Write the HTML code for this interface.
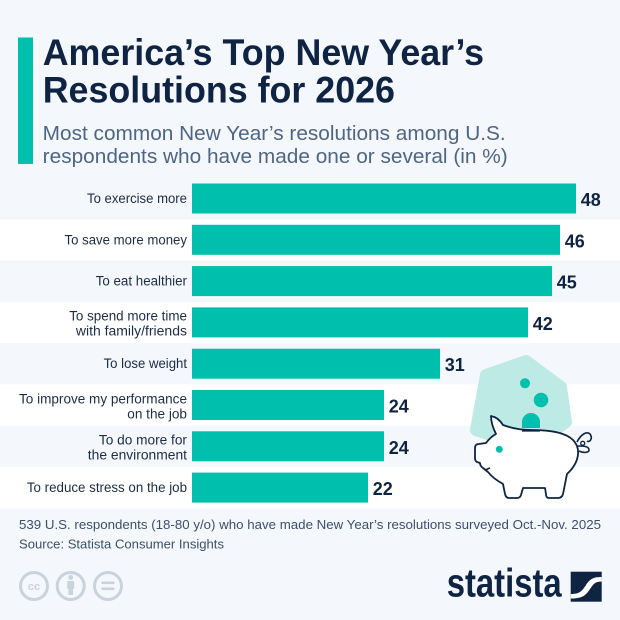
<!DOCTYPE html>
<html><head><meta charset="utf-8"><style>
html,body{margin:0;padding:0;background:#f4f7fb;}
svg{display:block;}
text{font-family:"Liberation Sans",sans-serif;}
</style></head><body>
<svg width="620" height="620" viewBox="0 0 620 620" xmlns="http://www.w3.org/2000/svg">
<rect width="620" height="620" fill="#f4f7fb"/>
<!-- accent bar -->
<rect x="18" y="37.5" width="15" height="126.5" fill="#00bfad"/>
<!-- title -->
<text x="42.7" y="65" font-size="37" font-weight="700" fill="#0f2342" textLength="441.3" lengthAdjust="spacingAndGlyphs">America’s Top New Year’s</text>
<text x="42.7" y="102.7" font-size="37" font-weight="700" fill="#0f2342" textLength="352.3" lengthAdjust="spacingAndGlyphs">Resolutions for 2026</text>
<!-- subtitle -->
<text x="42.7" y="140" font-size="20.5" fill="#4e6584" textLength="463" lengthAdjust="spacingAndGlyphs">Most common New Year’s resolutions among U.S.</text>
<text x="42.7" y="163" font-size="20.5" fill="#4e6584" textLength="465" lengthAdjust="spacingAndGlyphs">respondents who have made one or several (in %)</text>

<!-- bands -->
<rect x="0" y="219.3" width="620" height="41.3" fill="#ffffff"/>
<rect x="0" y="301.9" width="620" height="41.3" fill="#ffffff"/>
<rect x="0" y="384.5" width="620" height="41.3" fill="#ffffff"/>
<rect x="0" y="467.1" width="620" height="41.3" fill="#ffffff"/>

<!-- bars -->
<g fill="#00bfad">
<rect x="192" y="183.5" width="384" height="30"/>
<rect x="192" y="224.8" width="368" height="30"/>
<rect x="192" y="266.1" width="360" height="30"/>
<rect x="192" y="307.4" width="336" height="30"/>
<rect x="192" y="348.7" width="248" height="30"/>
<rect x="192" y="390" width="192" height="30"/>
<rect x="192" y="431.3" width="192" height="30"/>
<rect x="192" y="472.6" width="176" height="30"/>
</g>

<!-- labels -->
<g font-size="13.5" fill="#1d2c47" text-anchor="end">
<text x="187" y="203" textLength="100" lengthAdjust="spacingAndGlyphs">To exercise more</text>
<text x="187" y="244.3" textLength="122.5" lengthAdjust="spacingAndGlyphs">To save more money</text>
<text x="187" y="285.6" textLength="91.3" lengthAdjust="spacingAndGlyphs">To eat healthier</text>
<text x="187" y="320.7" textLength="117.8" lengthAdjust="spacingAndGlyphs">To spend more time</text>
<text x="187" y="335.7" textLength="111.1" lengthAdjust="spacingAndGlyphs">with family/friends</text>
<text x="187" y="368.2" textLength="83.4" lengthAdjust="spacingAndGlyphs">To lose weight</text>
<text x="187" y="403.3" textLength="168" lengthAdjust="spacingAndGlyphs">To improve my performance</text>
<text x="187" y="418.3" textLength="59.7" lengthAdjust="spacingAndGlyphs">on the job</text>
<text x="187" y="444.6" textLength="88.1" lengthAdjust="spacingAndGlyphs">To do more for</text>
<text x="187" y="459.6" textLength="99.2" lengthAdjust="spacingAndGlyphs">the environment</text>
<text x="187" y="492.1" textLength="160.1" lengthAdjust="spacingAndGlyphs">To reduce stress on the job</text>
</g>

<!-- values -->
<g font-size="18" font-weight="700" fill="#0f2342">
<text x="580.7" y="206">48</text>
<text x="564.7" y="247.3">46</text>
<text x="556.7" y="288.6">45</text>
<text x="532.7" y="329.9">42</text>
<text x="444.7" y="371.2">31</text>
<text x="388.7" y="412.5">24</text>
<text x="388.7" y="453.8">24</text>
<text x="372.7" y="495.1">22</text>
</g>

<!-- piggy illustration -->
<polygon points="486,375 526,361 561,387 566,422 530,448 476,430" fill="#bdeae4" stroke="#bdeae4" stroke-width="12" stroke-linejoin="round"/>
<circle cx="525" cy="383.3" r="5" fill="#00bfad"/>
<circle cx="541" cy="400" r="7.3" fill="#00bfad"/>
<path d="M496 434 C493 428 491 421 491 416 C496 417 500 420 503 425 C511 428 520 430 531 430 C549 430 565 432 573 440 C581 448 580 462 567 474 L563 494 Q562 498 558 498 L549 498 Q546 498 546 494 L545 488 L523 488 L521 495 Q520 498 517 498 L509 498 Q506 498 505 494 L503 484 C496 480 491 476 488 472 L483 468 Q480 466 480 463 L477 462 Q475 461 475 458 L475 448 Q475 444 479 444 L486 443 C489 439 492 436 496 434 Z" fill="#ffffff" stroke="#0f2342" stroke-width="1.8" stroke-linejoin="round"/>
<path d="M522 428 L522 422 A9 9 0 0 1 540 422 L540 428 Z" fill="#00bfad"/>
<line x1="522" y1="430.8" x2="540" y2="430.8" stroke="#0f2342" stroke-width="1.6"/>
<path d="M485 470 L490 468" stroke="#0f2342" stroke-width="1.5" fill="none"/>
<path d="M577 442 C581 434 587 431 590 434 C593 438 590 443 587 441" fill="none" stroke="#0f2342" stroke-width="1.6"/>
<path d="M578 446 C583 446 589 446 589 450 C589 453 583 453 579 451" fill="none" stroke="#0f2342" stroke-width="1.6"/>
<circle cx="582.7" cy="443.3" r="2" fill="none" stroke="#0f2342" stroke-width="1.3"/>
<circle cx="499.3" cy="449.3" r="3.5" fill="#00bfad"/>

<!-- footer -->
<text x="19" y="529" font-size="12.5" fill="#3c4f6d" textLength="582" lengthAdjust="spacingAndGlyphs">539 U.S. respondents (18-80 y/o) who have made New Year’s resolutions surveyed Oct.-Nov. 2025</text>
<text x="19" y="548.3" font-size="12.5" fill="#3c4f6d" textLength="205" lengthAdjust="spacingAndGlyphs">Source: Statista Consumer Insights</text>

<!-- cc icons -->
<g stroke="#c9d3dd" stroke-width="3" fill="none">
<circle cx="34" cy="586" r="13.5"/>
<circle cx="70.7" cy="586" r="13.5"/>
<circle cx="108" cy="586" r="13.5"/>
</g>
<text x="34" y="590" font-size="11" font-weight="700" fill="#c9d3dd" text-anchor="middle">cc</text>
<circle cx="70.7" cy="577.5" r="2.4" fill="#c9d3dd"/>
<rect x="67.2" y="581" width="7" height="8" rx="1" fill="#c9d3dd"/>
<rect x="68.4" y="588" width="4.6" height="7" fill="#c9d3dd"/>
<rect x="101.5" y="581.5" width="13" height="2.6" fill="#c9d3dd"/>
<rect x="101.5" y="587.5" width="13" height="2.6" fill="#c9d3dd"/>

<!-- statista logo -->
<text x="446.7" y="596.7" font-size="40" font-weight="700" fill="#0f2342" textLength="115" lengthAdjust="spacingAndGlyphs">statista</text>
<rect x="570.7" y="571.7" width="31" height="30" fill="#0f2342"/>
<path d="M570.7 594 C580 594 582 591 586 585 C590 579 593 577 601.7 577 L601.7 581.5 C595 581.5 593.5 584 590 589 C586 595 583 598.5 570.7 598.5 Z" fill="#ffffff"/>
</svg>
</body></html>
